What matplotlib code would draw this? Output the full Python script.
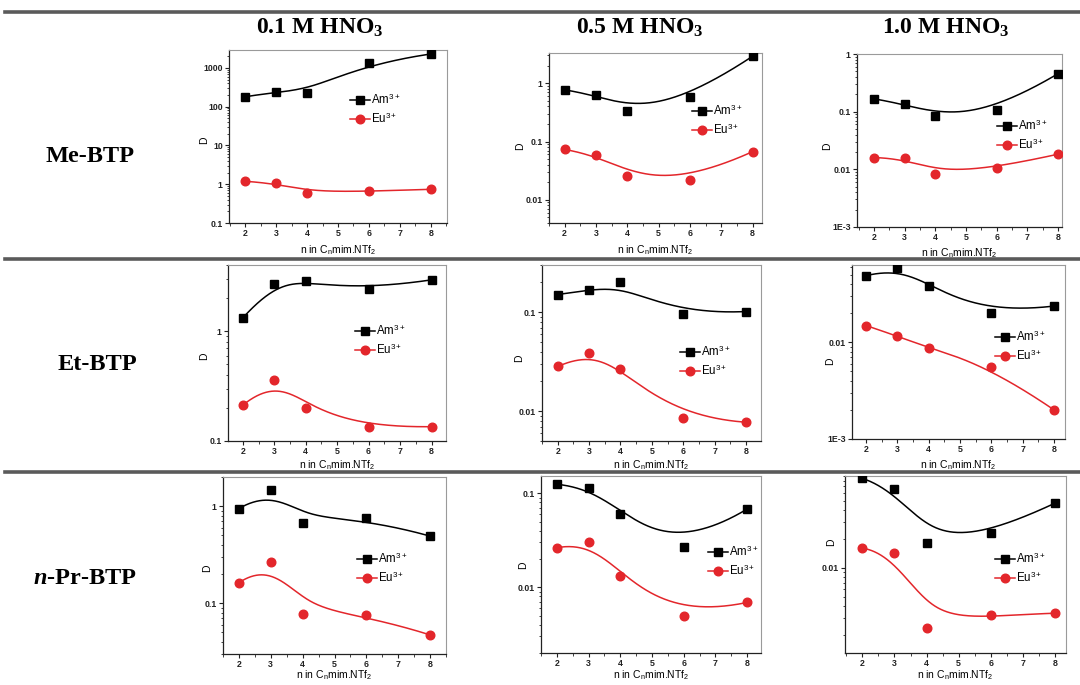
import numpy as np
import matplotlib
matplotlib.use("Agg")
import matplotlib.pyplot as plt
from matplotlib.lines import Line2D
from matplotlib.ticker import FuncFormatter, LogLocator, MultipleLocator, NullFormatter, FixedLocator

plt.rcParams['font.family'] = ['Liberation Sans', 'DejaVu Sans']
plt.rcParams['font.weight'] = 'bold'
plt.rcParams['mathtext.fontset'] = 'custom'
plt.rcParams['mathtext.rm'] = 'Liberation Sans'
plt.rcParams['mathtext.it'] = 'Liberation Serif:italic:bold'
plt.rcParams['mathtext.bf'] = 'Liberation Sans:bold'

# ---------------- data ----------------
n_chain = [2, 3, 4, 6, 8]
acid_labels = ['0.1 M HNO$_\\mathregular{3}$', '0.5 M HNO$_\\mathregular{3}$', '1.0 M HNO$_\\mathregular{3}$']
ligand_labels = ['Me-BTP', 'Et-BTP', '$\\mathit{n}$-Pr-BTP']

# D values, one list per acid concentration (0.1, 0.5, 1.0 M)
am_me = [[180, 243, 230, 1340, 2290],
         [0.77, 0.63, 0.34, 0.57, 2.9],
         [0.167, 0.136, 0.083, 0.107, 0.455]]
eu_me = [[1.19, 1.06, 0.59, 0.66, 0.74],
         [0.073, 0.059, 0.026, 0.022, 0.067],
         [0.016, 0.0155, 0.0082, 0.0107, 0.0183]]
am_et = [[1.32, 2.71, 2.85, 2.41, 2.93],
         [0.151, 0.166, 0.201, 0.095, 0.1016],
         [0.0489, 0.0582, 0.0385, 0.0199, 0.0237]]
eu_et = [[0.212, 0.359, 0.201, 0.133, 0.135],
         [0.0283, 0.0389, 0.0268, 0.00858, 0.00774],
         [0.0149, 0.0116, 0.00867, 0.00551, 0.0020]]
am_pr = [[0.947, 1.46, 0.674, 0.748, 0.492],
         [0.125, 0.115, 0.061, 0.0268, 0.068],
         [0.085, 0.066, 0.0179, 0.023, 0.047]]
eu_pr = [[0.163, 0.268, 0.077, 0.0758, 0.0472],
         [0.0264, 0.0303, 0.0131, 0.00498, 0.0069],
         [0.016, 0.0142, 0.00239, 0.0032, 0.00337]]

am_rows = [am_me, am_et, am_pr]
eu_rows = [eu_me, eu_et, eu_pr]

# ---------------- layout (pixels) ----------------
W, H = 1080, 685
# (left, top, right, bottom) per panel
boxes = [[(229, 50, 447, 223), (549, 53, 762, 223), (857, 54, 1062, 227)],
         [(228, 265, 446, 441), (542, 265, 761, 441), (852, 265, 1065, 439)],
         [(223, 477, 446, 654), (541, 476, 761, 653), (845, 476, 1066, 653)]]
xlims = [[(1.48, 8.52), (1.5, 8.3), (1.45, 8.13)],
         [(1.53, 8.46), (1.5, 8.48), (1.55, 8.35)],
         [(1.5, 8.5), (1.5, 8.44), (1.46, 8.34)]]
ylims = [[(0.1, 2900), (0.004, 3.3), (0.001, 1.0)],
         [(0.1, 4.0), (0.005, 0.3), (0.001, 0.063)],
         [(0.03, 2.0), (0.002, 0.153), (0.0013, 0.09)]]
# legend: left x of handle, y of Am row, y of Eu row
legpos = [[(350, 100, 118), (692, 112, 129), (997, 127, 144)],
          [(355, 331, 350), (680, 353, 370), (995, 337, 355)],
          [(357, 559, 578), (708, 552, 570), (995, 559, 578)]]
# D label center (x, y) in pixels
dlab = [[(205, 140), (521, 146), (828, 146)],
        [(205, 356), (520, 358), (831, 361)],
        [(208, 568), (524, 565), (832, 542)]]
# x-label center y in pixels
xlab_y = [[248, 248, 251],
          [463, 463, 463],
          [674, 673, 674]]

RED = '#e3262b'


def clamped_bspline(xs, ys, npts=300, k=3):
    P = np.column_stack([xs, ys]).astype(float)
    m = len(P)
    knots = np.concatenate([[0.0] * k, np.linspace(0, 1, m - k + 1), [1.0] * k])
    t = np.linspace(0, 1, npts)
    nb = len(knots) - 1
    B = np.zeros((npts, nb))
    for i in range(nb):
        B[:, i] = (knots[i] <= t) & (t < knots[i + 1])
    last = np.where(knots[:-1] < knots[1:])[0][-1]
    B[t >= knots[-1], last] = 1.0
    for d in range(1, k + 1):
        Bn = np.zeros((npts, nb - d))
        for i in range(nb - d):
            d1 = knots[i + d] - knots[i]
            d2 = knots[i + d + 1] - knots[i + 1]
            a = (t - knots[i]) / d1 * B[:, i] if d1 > 0 else 0.0
            b = (knots[i + d + 1] - t) / d2 * B[:, i + 1] if d2 > 0 else 0.0
            Bn[:, i] = a + b
        B = Bn
    C = B @ P
    return C[:, 0], C[:, 1]


def fmt_log(v, pos):
    e = int(round(np.log10(v)))
    if e <= -3:
        return '1E%d' % e
    if e >= 0:
        return '%d' % int(round(v))
    return ('%.*f' % (-e, v))


fig = plt.figure(figsize=(W / 100, H / 100), dpi=100)

# separator lines
for yl in [12, 259, 472]:
    fig.add_artist(Line2D([5 / W, 1.0], [1 - yl / H, 1 - yl / H], color='#5a5a5a', lw=2.6))

# column headers
for j, xc in enumerate([320, 640, 946]):
    fig.text(xc / W, 1 - 28 / H, acid_labels[j], ha='center', va='center',
             family='Liberation Serif', weight='bold', fontsize=17)

# row labels
for i, (xc, yc) in enumerate([(90, 156), (97, 365), (85, 578)]):
    fig.text(xc / W, 1 - yc / H, ligand_labels[i], ha='center', va='center',
             family='Liberation Serif', weight='bold', fontsize=17.5)

for i in range(3):
    for j in range(3):
        l, t, r, b = boxes[i][j]
        ax = fig.add_axes([l / W, 1 - b / H, (r - l) / W, (b - t) / H])
        am = np.array(am_rows[i][j], dtype=float)
        eu = np.array(eu_rows[i][j], dtype=float)
        for vals, col, mk in [(am, 'black', 's'), (eu, RED, 'o')]:
            cx, cy = clamped_bspline(n_chain, np.log10(vals))
            ax.plot(cx, 10 ** cy, color=col, lw=1.1, zorder=2)
            ax.plot(n_chain, vals, linestyle='none', marker=mk, color=col,
                    ms=5.8 if mk == 's' else 6.2, zorder=3)
        ax.set_yscale('log')
        ax.set_xlim(*xlims[i][j])
        ax.set_ylim(*ylims[i][j])
        ax.xaxis.set_major_locator(FixedLocator([2, 3, 4, 5, 6, 7, 8]))
        ax.xaxis.set_minor_locator(MultipleLocator(0.5))
        ax.yaxis.set_major_locator(LogLocator(base=10, numticks=12))
        ax.yaxis.set_minor_locator(LogLocator(base=10, subs=np.arange(2, 10), numticks=12))
        ax.yaxis.set_major_formatter(FuncFormatter(fmt_log))
        ax.yaxis.set_minor_formatter(NullFormatter())
        ax.tick_params(which='major', direction='out', length=3, width=0.8,
                       labelsize=6.3, pad=1.5, colors='#222222')
        ax.tick_params(which='minor', direction='out', length=1.8, width=0.6, colors='#222222')
        for side in ['left', 'bottom']:
            ax.spines[side].set_color('#222222')
            ax.spines[side].set_linewidth(0.9)
        for side in ['top', 'right']:
            ax.spines[side].set_color('#9a9a9a')
            ax.spines[side].set_linewidth(0.8)
        ax.set_xlabel('n in C$_\\mathregular{n}$mim.NTf$_\\mathregular{2}$', fontsize=7.5)
        ax.set_ylabel('D', fontsize=7.5)
        wpx, hpx = r - l, b - t
        dx, dy = dlab[i][j]
        ax.yaxis.set_label_coords((dx + 4 - l) / wpx, (b - dy) / hpx)
        # x-label: anchor is top-center of label
        ax.xaxis.set_label_coords(0.5, (b - (xlab_y[i][j] - 5)) / hpx)

        lx, ya, ye = legpos[i][j]
        handles = [Line2D([], [], color='black', marker='s', ms=5.8, lw=1.1),
                   Line2D([], [], color=RED, marker='o', ms=6.2, lw=1.1)]
        ax.legend(handles, ['Am$^\\mathregular{3+}$', 'Eu$^\\mathregular{3+}$'],
                  loc='center left', bbox_to_anchor=(lx / W, 1 - (ya + ye) / 2 / H),
                  bbox_transform=fig.transFigure, frameon=False, borderpad=0,
                  borderaxespad=0, handlelength=1.7, handletextpad=0.15,
                  labelspacing=0.4, prop={'size': 8.3, 'weight': 'normal'})

fig.savefig('out.png', dpi=100, facecolor='white')
